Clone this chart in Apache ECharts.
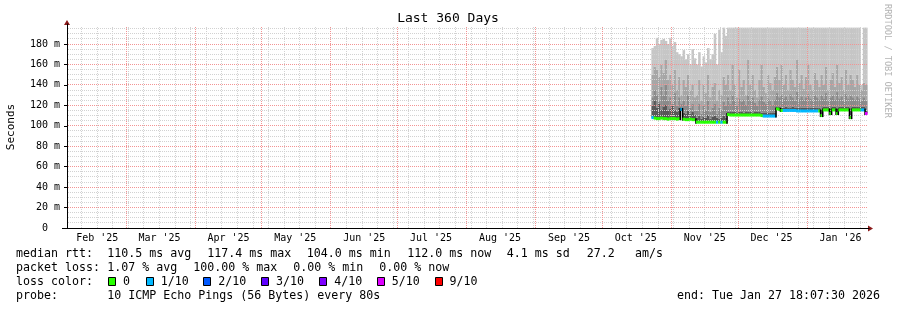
<!DOCTYPE html>
<html><head><meta charset="utf-8">
<script src="https://cdn.jsdelivr.net/npm/echarts@6/dist/echarts.min.js"></script>
<style>html,body{margin:0;padding:0;background:#fff}#c{width:897px;height:310px}</style>
</head><body><div id="c"></div><script>
// ---------------- data ----------------
const firstDay = '2025-10-23';
const median = [
 108,107.5,107,107,107.5,107,107,106.5,107,107,107,106.5,107,
 116,
 106.5,106,106,106.5,106,106,
 103.5,103.5,103.5,103.5,103.5,103.5,103.5,103.5,103.5,103.5,103.5,103.5,103.5,103.5,
 111,110.5,110.5,110.5,110.5,110.5,110.5,110.5,110.5,110.5,110.5,110.5,110.5,110.5,110.5,110,109.5,109.5,109.5,109.5,109.5,109.5,
 116.5,116,115,115,115,115,115,115,115,114.5,114.5,114.5,114.5,114.5,114.5,114.5,114.5,114.5,114.5,114.5,
 110,115.5,115.5,115.5,112,115.5,115.5,112,115.5,115.5,115.5,115.5,115.5,108,115.5,115.5,115.5,115.5,115.5,115.5,
 112
];
const smokeDark = [
 120,125,118,122,116,119,121,115,117,120,116,114,118,
 118,
 113,112,115,112,114,111,
 108,110,107,109,108,111,107,109,110,108,107,108,110,108,
 114,113.5,114,113.5,113,114,113.5,113,113.5,114,113.5,113,113.5,114,113.5,113,112.5,112.5,113,112.5,112.5,113,
 119,119,118,118,118.5,118,118,118.5,118,117.5,117.5,118,117.5,117.5,118,117.5,117.5,118,117.5,117.5,
 116,118.5,118.5,118.5,117,118.5,118.5,117,118.5,118.5,118.5,118.5,118.5,116,118.5,118.5,118.5,118.5,118.5,118.5,
 115
];
const smokeMid = [
 128,135,130,125,138,130,140,125,128,122,132,120,128,
 122,
 125,120,130,118,122,115,
 115,122,112,120,116,125,114,118,122,112,118,116,124,120,
 128,122,130,125,120,127,124,126,121,130,125,128,123,120,126,129,124,122,127,125,121,126,
 132,128,130,127,129,126,131,128,125,133,127,129,126,128,131,127,125,130,128,126,
 130,127,132,125,128,130,126,133,127,129,125,131,127,130,128,126,129,127,125,128,
 125
];
const smokeLight = [
 150,158,155,148,160,152,165,145,150,140,155,135,148,
 130,
 145,138,150,135,140,128,
 130,145,125,140,132,150,128,138,142,125,135,130,148,140,
 150,135,160,140,128,155,138,145,130,165,140,150,135,128,145,160,138,132,150,142,135,148,
 158,145,160,140,150,135,155,145,138,165,142,150,136,148,160,140,135,152,145,138,
 150,140,158,135,145,152,138,160,142,148,135,155,140,150,145,138,150,140,135,142,
 140
];
const smokeMax = [
 176,178,186,180,184,185,183,180,186,178,182,172,170,
 168,
 174,165,170,160,175,166,
 160,172,158,168,162,176,165,170,190,160,194,172,196,188,
 196,196,196,196,196,196,196,196,196,196,196,196,196,196,196,196,196,196,196,196,196,196,
 196,196,196,196,196,196,196,196,196,196,196,196,196,196,196,196,196,196,196,196,
 196,196,196,196,196,196,196,196,196,196,196,196,196,196,196,196,196,196,140,196,
 196
];
const lossLevel = [
 1,0,0,0,0,0,0,0,0,0,0,0,0,
 1,
 0,0,0,0,0,0,
 0,0,0,0,0,0,0,0,0,1,0,1,0,0,
 0,0,0,0,0,0,0,0,0,0,0,0,0,0,0,0,1,1,1,1,1,1,
 0,0,0,1,1,1,1,1,1,1,1,1,1,1,1,1,1,1,1,0,
 0,0,0,0,0,0,0,0,0,0,0,0,0,0,0,0,0,0,1,1,
 5
];
const lossNames = ['0','1/10','2/10','3/10','4/10','5/10','9/10'];
const lossColors = ['#26ff00','#00b8ff','#0059ff','#5e00ff','#7e00ff','#dd00ff','#ff0000'];
const monthStarts = ['2025-03-01','2025-04-01','2025-05-01','2025-06-01','2025-07-01','2025-08-01','2025-09-01','2025-10-01','2025-11-01','2025-12-01','2026-01-01'];
const monthLabelDates = ['2025-02-16','2025-03-16','2025-04-16','2025-05-16','2025-06-16','2025-07-16','2025-08-16','2025-09-16','2025-10-16','2025-11-16','2025-12-16','2026-01-16'];
const monthLabels = ["Feb '25","Mar '25","Apr '25","May '25","Jun '25","Jul '25","Aug '25","Sep '25","Oct '25","Nov '25","Dec '25","Jan '26"];
const yTickValues = [0,20,40,60,80,100,120,140,160,180];
const yMinorValues = [5,10,15,25,30,35,45,50,55,65,70,75,85,90,95,105,110,115,125,130,135,145,150,155,165,170,175,185,190,195];
const firstSunday = '2025-02-09';

// ---------------- layout ----------------
const DAY = 864e5;
const T = s => Date.parse(s + 'T00:00:00Z');
const xMin = Date.parse('2025-02-02T10:00:00Z');
const PXDAY = 2.2255;
const GRID = {left: 67, top: 24, width: 802, height: 204};
const xMax = xMin + GRID.width / PXDAY * DAY;
const yMax = GRID.height / (184 / 180);
const plotEnd = T('2026-01-28');
const gridTop = 197.5;

const t0 = T(firstDay);
const smokeData = median.map((m, i) => [t0 + i * DAY, m, smokeDark[i], smokeMid[i], smokeLight[i], smokeMax[i]]);
const medData = median.map((m, i) => [t0 + i * DAY, m, lossLevel[i]]);

const weekly = [];
for (let t = T(firstSunday); t < plotEnd; t += 7 * DAY) weekly.push(t);

const smokeColors = ['#575757', '#8a8a8a', '#a6a6a6', '#c6c6c6'];
const GRID_COLORS = ['#d2d2d2', '#f39494'];

// grid rows: [x1, y1, x2, y2], with a parallel list saying which are major
const gridRows = [];
const gridMajor = [];
yMinorValues.forEach(v => { gridRows.push([xMin, v, plotEnd, v]); gridMajor.push(0); });
weekly.forEach(t => { gridRows.push([t, 0, t, gridTop]); gridMajor.push(0); });
yTickValues.filter(v => v > 0).forEach(v => { gridRows.push([xMin, v, plotEnd, v]); gridMajor.push(1); });
monthStarts.forEach(s => { gridRows.push([T(s), 0, T(s), gridTop]); gridMajor.push(1); });

const FONT = '"DejaVu Sans Mono", monospace';
const LF = '11.63px ' + FONT;
function txt(text, x, y, align) {
  return {type: 'text', x: x, y: y, silent: true, style: {text: text, font: LF, fill: '#000', textAlign: align || 'left', textVerticalAlign: 'middle', verticalAlign: 'middle'}};
}
const legendBoxX = [108, 146, 203, 261, 319, 377, 435];
const legendTextX = [123, 160.7, 218.3, 276, 334.3, 391.7, 449.5];
const graphics = [
  {type: 'text', x: 448, y: 19, silent: true, style: {text: 'Last 360 Days', font: '13px ' + FONT, fill: '#000', textAlign: 'center', verticalAlign: 'middle', textVerticalAlign: 'middle'}},
  {type: 'text', x: 11, y: 127, rotation: Math.PI / 2, silent: true, style: {text: 'Seconds', font: '11px ' + FONT, fill: '#000', textAlign: 'center', verticalAlign: 'middle', textVerticalAlign: 'middle'}},
  {type: 'text', x: 887, y: 4, rotation: -Math.PI / 2, silent: true, style: {text: 'RRDTOOL / TOBI OETIKER', font: '8.6px ' + FONT, fill: '#b4b4b4', textAlign: 'left', verticalAlign: 'middle', textVerticalAlign: 'middle'}},
  {type: 'line', silent: true, shape: {x1: 62, y1: 228.5, x2: 67, y2: 228.5}, style: {stroke: '#000', lineWidth: 1}},
  {type: 'polygon', silent: true, shape: {points: [[64, 25], [70, 25], [67, 20]]}, style: {fill: '#8b1a1a'}},
  {type: 'polygon', silent: true, shape: {points: [[868, 225.5], [868, 231.5], [873, 228.5]]}, style: {fill: '#8b1a1a'}},
  txt('median rtt:', 16, 254), txt('110.5 ms avg', 107.3, 254), txt('117.4 ms max', 207.3, 254), txt('104.0 ms min', 306.7, 254),
  txt('112.0 ms now', 407.3, 254), txt('4.1 ms sd', 506.7, 254), txt('27.2', 586.7, 254), txt('am/s', 635, 254),
  txt('packet loss:', 16, 268), txt('1.07 % avg', 107.3, 268), txt('100.00 % max', 193.3, 268), txt('0.00 % min', 293.3, 268), txt('0.00 % now', 379.3, 268),
  txt('loss color:', 16, 282),
  txt('probe:', 16, 296), txt('10 ICMP Echo Pings (56 Bytes) every 80s', 107.3, 296),
  txt('end: Tue Jan 27 18:07:30 2026', 880, 296, 'right')
];
lossNames.forEach((n, i) => {
  graphics.push({type: 'rect', silent: true, shape: {x: legendBoxX[i] + 0.5, y: 277.5, width: 7, height: 8}, style: {fill: lossColors[i], stroke: '#000', lineWidth: 1}});
  graphics.push(txt(n, legendTextX[i], 282));
});

const labelTimes = monthLabelDates.map(T);
const chart = echarts.init(document.getElementById('c'), null, {renderer: 'canvas'});
chart.setOption({
  animation: false,
  backgroundColor: '#fff',
  grid: GRID,
  xAxis: {
    type: 'value', min: xMin, max: xMax,
    axisLine: {show: true, lineStyle: {color: '#000', width: 1}},
    axisTick: {show: false},
    splitLine: {show: false},
    axisLabel: {
      customValues: labelTimes,
      formatter: v => { const k = labelTimes.indexOf(v); return k >= 0 ? monthLabels[k] : ''; },
      fontFamily: 'DejaVu Sans Mono', fontSize: 10, color: '#000', margin: 5, hideOverlap: false
    }
  },
  yAxis: {
    type: 'value', min: 0, max: yMax,
    axisLine: {show: true, lineStyle: {color: '#000', width: 1}},
    axisTick: {show: true, customValues: yTickValues, length: 3, lineStyle: {color: '#000'}},
    splitLine: {show: false},
    axisLabel: {
      customValues: yTickValues,
      formatter: v => v === 0 ? '0  ' : v + ' m',
      fontFamily: 'DejaVu Sans Mono', fontSize: 10, color: '#000', margin: 7
    }
  },
  series: [
    {
      type: 'custom', name: 'smoke', z: 1,
      data: smokeData,
      encode: {x: 0, y: [1, 5]},
      renderItem: (params, api) => {
        const t = api.value(0);
        const w = api.size([DAY, 0])[0];
        const x0 = api.coord([t, 0])[0];
        const children = [];
        for (let k = 0; k < 4; k++) {
          const yA = api.coord([t, api.value(k + 1)])[1];
          const yB = api.coord([t, api.value(k + 2)])[1];
          if (yA - yB > 0) children.push({type: 'rect', shape: {x: x0, y: yB, width: w + 0.35, height: yA - yB}, style: {fill: smokeColors[k]}});
        }
        return {type: 'group', children: children};
      }
    },
    {
      type: 'custom', name: 'grid', z: 2, silent: true,
      data: gridRows,
      encode: {x: [0, 2], y: [1, 3]},
      renderItem: (params, api) => {
        const a = api.coord([api.value(0), api.value(1)]);
        const b = api.coord([api.value(2), api.value(3)]);
        const snap = v => Math.round(v - 0.5) + 0.5;
        const horiz = Math.abs(a[1] - b[1]) < 0.01;
        const shape = horiz
          ? {x1: Math.round(a[0]) + 1, y1: snap(a[1]), x2: Math.round(b[0]), y2: snap(b[1])}
          : {x1: snap(a[0]), y1: Math.round(a[1]), x2: snap(b[0]), y2: Math.round(b[1])};
        return {type: 'line', shape: shape, style: {stroke: GRID_COLORS[gridMajor[params.dataIndex]], lineWidth: 1, lineDash: [1, 1]}};
      }
    },
    {
      type: 'custom', name: 'median', z: 4,
      data: medData,
      encode: {x: 0, y: 1},
      renderItem: (params, api) => {
        const i = params.dataIndex;
        const t = api.value(0);
        const p = api.coord([t, api.value(1)]);
        const w = api.size([DAY, 0])[0];
        const children = [];
        if (i > 0) {
          const q = api.coord([t, median[i - 1]]);
          if (Math.abs(q[1] - p[1]) > 0.6) children.push({type: 'rect', shape: {x: p[0] - 0.75, y: Math.min(p[1], q[1]) - 1.5, width: 1.5, height: Math.abs(p[1] - q[1]) + 3}, style: {fill: '#000'}});
        }
        children.push({type: 'rect', shape: {x: p[0], y: p[1] - 1.5, width: w + 0.3, height: 3}, style: {fill: lossColors[lossLevel[i]]}});
        return {type: 'group', children: children};
      }
    }
  ],
  graphic: graphics
});
</script></body></html>
